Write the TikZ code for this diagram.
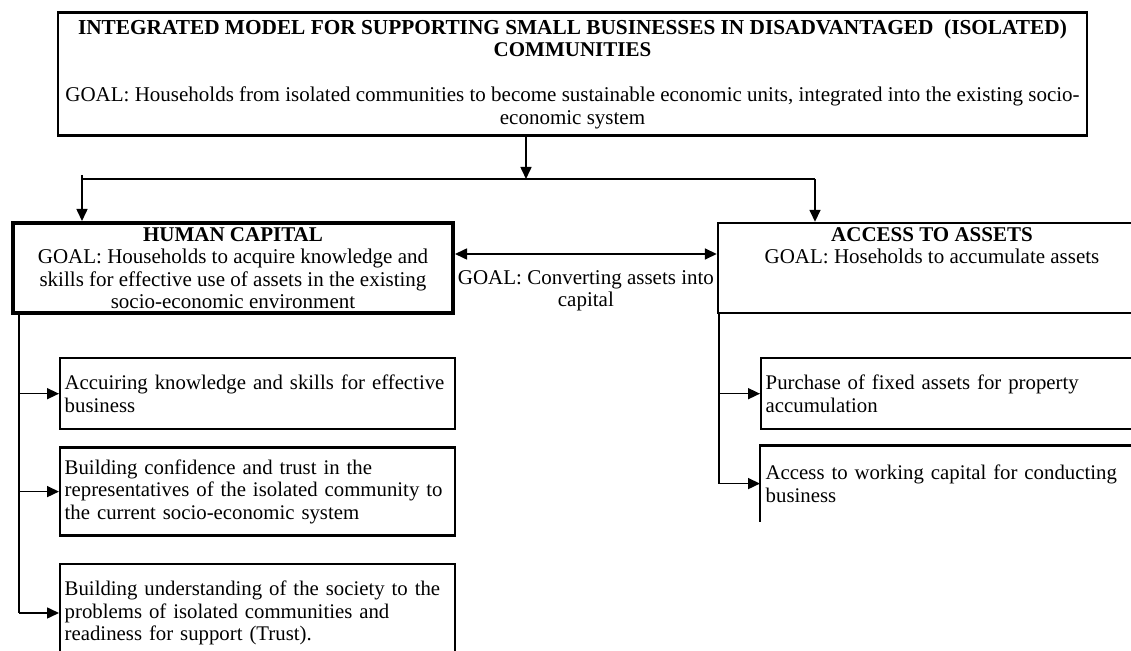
\documentclass[tikz,border=0pt]{standalone}
\usepackage{fontspec}
\setmainfont{Liberation Serif}
\usetikzlibrary{arrows.meta, positioning}

\begin{document}
\begin{tikzpicture}[
    x=0.5pt, y=-0.5pt,
    node distance=8pt and 10pt,
    >={Triangle[length=6pt, width=5.5pt]},
    % --- node styles ---
    modelbox/.style={
        rectangle, draw=black, line width=1.2pt, minimum width=514.5pt, minimum height=60pt,
        inner xsep=2pt, align=center, font=\fontsize{10.5}{11.2}\selectfont
    },
    goalbox/.style={
        rectangle, draw=black, line width=1.2pt, minimum height=45pt,
        inner sep=2pt, align=center, font=\fontsize{10.5}{11.2}\selectfont
    },
    taskbox/.style={
        rectangle, draw=black, line width=1.2pt, text width=193pt, inner xsep=2.25pt,
        align=left, font=\fontsize{10.4}{11.2}\selectfont
    },
    arrow/.style={->, line width=0.8pt},
    link/.style={line width=0.7pt},
    bus/.style={line width=0.6pt},
]
\useasboundingbox (0,0) rectangle (1131,651);
\clip (0,0) rectangle (1131,651);

% ===== MODEL =====
\node[modelbox] (model) at (572.5,74)
    {\textbf{\fontsize{10.65}{11.2}\selectfont INTEGRATED MODEL FOR SUPPORTING SMALL BUSINESSES IN DISADVANTAGED\ \ (ISOLATED)}\\
     \textbf{COMMUNITIES}\\[11.5pt]
     GOAL: Households from isolated communities to become sustainable economic units, integrated into the existing socio-\\
     economic system};

% ===== TWO PILLARS =====
\node[goalbox, minimum width=220pt, line width=2pt] (human) at (233,268)
    {\textbf{HUMAN CAPITAL}\\
     GOAL: Households to acquire knowledge and\\
     skills for effective use of assets in the existing\\
     socio-economic environment};

\node[goalbox, minimum width=214pt] (assets) at (932,268)
    {\textbf{ACCESS TO ASSETS}\\
     GOAL: Hoseholds to accumulate assets\\~\\~};

% fork from the model down to both pillars
\coordinate (fork) at (526,179);
\coordinate (busL) at (82,179);
\coordinate (busR) at (815,179);
\draw[arrow] (model.south -| fork) -- (fork);
\draw[bus] ([yshift=2pt]busL) -- (busL) -- (busR);
\draw[arrow] (busL) -- (busL |- human.north);
\draw[arrow] (busR) -- (busR |- assets.north);

% link between the pillars
\draw[arrow, <->] ([yshift=7pt]human.east) -- ([yshift=7pt]assets.west)
    node[midway, below=4.5pt, align=center, font=\fontsize{10.5}{11.2}\selectfont]
    {GOAL: Converting assets into\\capital};

% ===== HUMAN CAPITAL TASKS =====
\node[taskbox, minimum height=35.5pt, anchor=north west] (skills) at (59,357)
    {Accuiring knowledge and skills for effective\\business};
\node[taskbox, minimum height=44pt, below=of skills] (trust)
    {Building confidence and trust in the\\
     representatives of the isolated community to\\
     the current socio-economic system};
\node[taskbox, minimum height=49pt, below=13pt of trust] (need)
    {Building understanding of the society to the\\
     problems of isolated communities and\\
     readiness for support (Trust).};

\coordinate (hstem) at ([xshift=4pt]human.south west);
\draw[link] (hstem) -- (hstem |- need.west);
\foreach \t in {skills, trust, need}
    \draw[arrow] (hstem |- \t.west) -- (\t.west);

% ===== ASSET TASKS =====
\node[taskbox, minimum height=35.5pt, anchor=north west] (fixed) at (760,357)
    {Purchase of fixed assets for property\\accumulation};
\node[taskbox, minimum height=37pt, draw=none, below=7.5pt of fixed] (working)
    {Access to working capital for conducting\\business};
\draw[line width=1.2pt] (working.south west) -- (working.north west) -- (working.north east);

\coordinate (astem) at ([xshift=1pt]assets.south west);
\draw[link] (astem) -- (astem |- working.west);
\foreach \t in {fixed, working}
    \draw[arrow] (astem |- \t.west) -- (\t.west);

\end{tikzpicture}
\end{document}
